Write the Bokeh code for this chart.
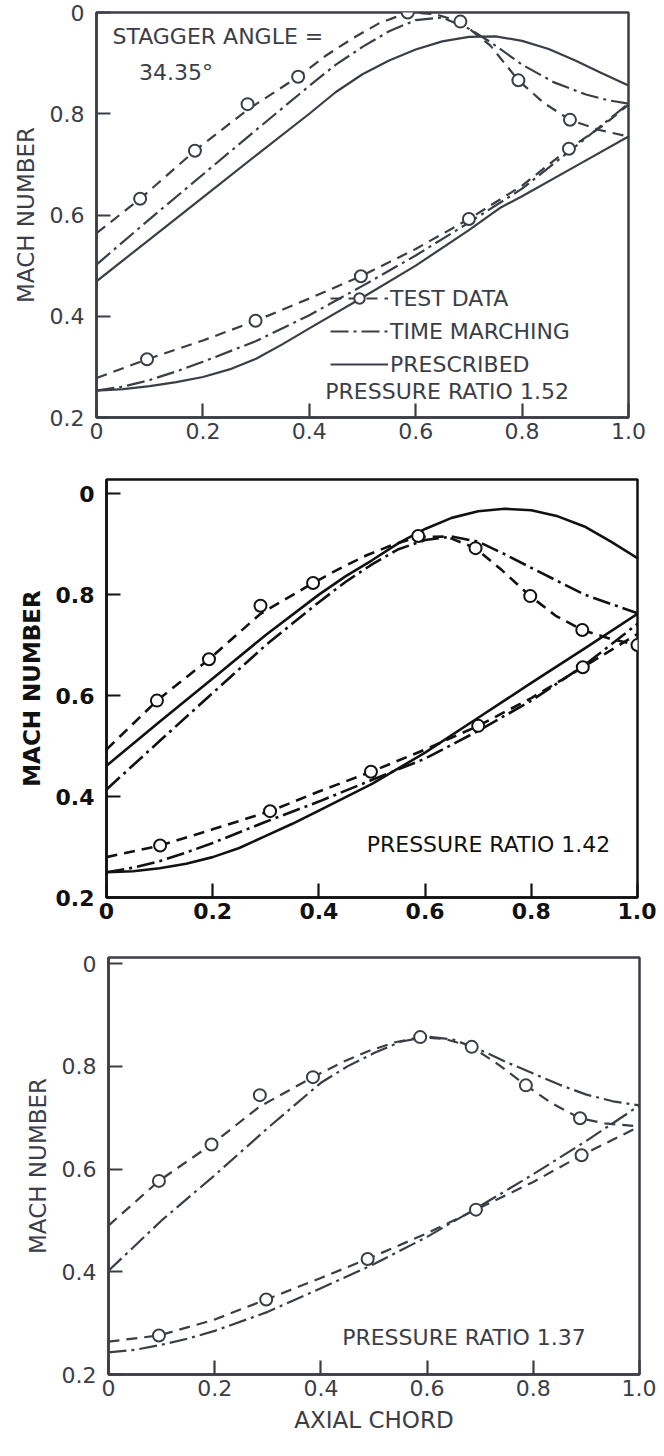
from bokeh.plotting import figure
from bokeh.models import Range1d, FixedTicker, Label, Legend, LegendItem
from bokeh.layouts import column
from bokeh.embed import file_html
from bokeh.resources import INLINE

# ---------------- tick labels ----------------
x_ticks = [0.0, 0.2, 0.4, 0.6, 0.8, 1.0]
x_tick_labels = ["0", "0.2", "0.4", "0.6", "0.8", "1.0"]
y_ticks = [0.2, 0.4, 0.6, 0.8, 1.0]
y_tick_labels = ["0.2", "0.4", "0.6", "0.8", "0"]

# ---------------- panel 1 : pressure ratio 1.52 ----------------
p1_test_up_x = [0.0, 0.082, 0.185, 0.284, 0.379, 0.43, 0.48, 0.53, 0.585, 0.635, 0.684, 0.74, 0.793, 0.840, 0.890, 0.945, 1.0]
p1_test_up_m = [0.564, 0.632, 0.727, 0.808, 0.873, 0.914, 0.948, 0.978, 1.0, 0.997, 0.982, 0.935, 0.866, 0.822, 0.788, 0.768, 0.755]
p1_test_lo_x = [0.0, 0.095, 0.2, 0.299, 0.4, 0.497, 0.6, 0.70, 0.8, 0.888, 0.95, 1.0]
p1_test_lo_m = [0.278, 0.315, 0.352, 0.391, 0.435, 0.479, 0.533, 0.592, 0.658, 0.731, 0.775, 0.818]
p1_circ_up_x = [0.082, 0.185, 0.284, 0.379, 0.585, 0.684, 0.793, 0.890]
p1_circ_up_m = [0.632, 0.727, 0.819, 0.873, 1.0, 0.982, 0.866, 0.788]
p1_circ_lo_x = [0.095, 0.299, 0.497, 0.70, 0.888]
p1_circ_lo_m = [0.315, 0.391, 0.479, 0.592, 0.731]
p1_tm_up_x = [0.0, 0.1, 0.2, 0.3, 0.4, 0.45, 0.5, 0.55, 0.6, 0.65, 0.7, 0.74, 0.8, 0.86, 0.92, 0.96, 1.0]
p1_tm_up_m = [0.502, 0.592, 0.68, 0.768, 0.855, 0.897, 0.932, 0.963, 0.985, 0.99, 0.968, 0.942, 0.897, 0.862, 0.838, 0.827, 0.82]
p1_tm_lo_x = [0.0, 0.05, 0.1, 0.15, 0.2, 0.3, 0.4, 0.5, 0.6, 0.7, 0.8, 0.9, 1.0]
p1_tm_lo_m = [0.253, 0.261, 0.274, 0.291, 0.31, 0.351, 0.402, 0.46, 0.52, 0.585, 0.652, 0.735, 0.82]
p1_pr_up_x = [0.0, 0.1, 0.2, 0.3, 0.4, 0.45, 0.5, 0.55, 0.6, 0.65, 0.7, 0.75, 0.8, 0.85, 0.9, 0.95, 1.0]
p1_pr_up_m = [0.469, 0.552, 0.635, 0.718, 0.80, 0.843, 0.878, 0.905, 0.927, 0.943, 0.952, 0.953, 0.944, 0.928, 0.905, 0.88, 0.856]
p1_pr_lo_x = [0.0, 0.05, 0.1, 0.15, 0.2, 0.25, 0.3, 0.35, 0.4, 0.5, 0.6, 0.7, 0.76, 0.8, 0.9, 1.0]
p1_pr_lo_m = [0.253, 0.256, 0.262, 0.27, 0.28, 0.295, 0.316, 0.345, 0.376, 0.437, 0.50, 0.57, 0.615, 0.637, 0.696, 0.755]

# ---------------- panel 2 : pressure ratio 1.42 ----------------
p2_test_up_x = [0.0, 0.095, 0.193, 0.29, 0.389, 0.44, 0.49, 0.54, 0.587, 0.64, 0.695, 0.745, 0.798, 0.846, 0.896, 0.95, 1.0]
p2_test_up_m = [0.493, 0.59, 0.672, 0.762, 0.823, 0.852, 0.878, 0.899, 0.914, 0.915, 0.892, 0.848, 0.797, 0.758, 0.73, 0.712, 0.70]
p2_test_lo_x = [0.0, 0.101, 0.2, 0.308, 0.4, 0.498, 0.6, 0.70, 0.8, 0.897, 1.0]
p2_test_lo_m = [0.28, 0.303, 0.335, 0.371, 0.41, 0.449, 0.493, 0.54, 0.595, 0.656, 0.722]
p2_circ_up_x = [0.095, 0.193, 0.29, 0.389, 0.587, 0.695, 0.798, 0.896, 1.0]
p2_circ_up_m = [0.59, 0.672, 0.778, 0.823, 0.916, 0.892, 0.797, 0.73, 0.70]
p2_circ_lo_x = [0.101, 0.308, 0.498, 0.70, 0.897]
p2_circ_lo_m = [0.303, 0.371, 0.449, 0.54, 0.656]
p2_tm_up_x = [0.0, 0.1, 0.2, 0.3, 0.4, 0.45, 0.5, 0.55, 0.6, 0.65, 0.7, 0.75, 0.8, 0.9, 1.0]
p2_tm_up_m = [0.414, 0.51, 0.605, 0.70, 0.785, 0.825, 0.86, 0.89, 0.908, 0.915, 0.905, 0.88, 0.853, 0.80, 0.763]
p2_tm_lo_x = [0.0, 0.05, 0.1, 0.15, 0.2, 0.3, 0.4, 0.5, 0.6, 0.7, 0.8, 0.9, 1.0]
p2_tm_lo_m = [0.25, 0.259, 0.272, 0.289, 0.308, 0.35, 0.39, 0.433, 0.475, 0.53, 0.59, 0.66, 0.742]
p2_pr_up_x = [0.0, 0.1, 0.2, 0.3, 0.4, 0.45, 0.5, 0.55, 0.6, 0.65, 0.7, 0.75, 0.8, 0.85, 0.9, 0.95, 1.0]
p2_pr_up_m = [0.461, 0.548, 0.634, 0.72, 0.80, 0.836, 0.868, 0.902, 0.93, 0.952, 0.965, 0.97, 0.967, 0.955, 0.935, 0.905, 0.872]
p2_pr_lo_x = [0.0, 0.05, 0.1, 0.15, 0.2, 0.25, 0.3, 0.35, 0.4, 0.5, 0.6, 0.7, 0.8, 0.9, 1.0]
p2_pr_lo_m = [0.25, 0.252, 0.258, 0.267, 0.28, 0.298, 0.322, 0.346, 0.372, 0.425, 0.487, 0.556, 0.625, 0.693, 0.762]

# ---------------- panel 3 : pressure ratio 1.37 ----------------
p3_test_up_x = [0.0, 0.095, 0.194, 0.285, 0.385, 0.44, 0.49, 0.54, 0.587, 0.635, 0.684, 0.735, 0.786, 0.835, 0.888, 0.935, 1.0]
p3_test_up_m = [0.49, 0.577, 0.648, 0.722, 0.779, 0.808, 0.83, 0.847, 0.857, 0.853, 0.838, 0.803, 0.763, 0.728, 0.699, 0.689, 0.683]
p3_test_lo_x = [0.0, 0.095, 0.2, 0.297, 0.4, 0.488, 0.6, 0.692, 0.8, 0.891, 1.0]
p3_test_lo_m = [0.264, 0.276, 0.307, 0.346, 0.388, 0.425, 0.475, 0.521, 0.575, 0.627, 0.683]
p3_circ_up_x = [0.095, 0.194, 0.285, 0.385, 0.587, 0.684, 0.786, 0.888]
p3_circ_up_m = [0.577, 0.648, 0.744, 0.779, 0.857, 0.838, 0.763, 0.699]
p3_circ_lo_x = [0.095, 0.297, 0.488, 0.692, 0.891]
p3_circ_lo_m = [0.276, 0.346, 0.425, 0.521, 0.627]
p3_tm_up_x = [0.0, 0.1, 0.2, 0.3, 0.4, 0.45, 0.5, 0.55, 0.6, 0.65, 0.7, 0.75, 0.8, 0.85, 0.9, 0.95, 1.0]
p3_tm_up_m = [0.402, 0.50, 0.588, 0.68, 0.768, 0.8, 0.826, 0.848, 0.858, 0.852, 0.832, 0.808, 0.786, 0.764, 0.745, 0.732, 0.724]
p3_tm_lo_x = [0.0, 0.05, 0.1, 0.15, 0.2, 0.3, 0.4, 0.5, 0.6, 0.7, 0.8, 0.9, 1.0]
p3_tm_lo_m = [0.243, 0.248, 0.258, 0.27, 0.285, 0.322, 0.368, 0.415, 0.468, 0.528, 0.59, 0.655, 0.724]

INK = "#3b3e47"
INK2 = "#111111"
FONT = "DejaVu Sans"
TEST_DASH = "11 7"
TM_DASH = "18 5 3 5"


def make_panel(height, bl, br, bt, bb, ymax, ink, bold, xlabel=None):
    p = figure(width=656, height=height, output_backend="svg", toolbar_location=None,
               x_range=Range1d(0.0, 1.0), y_range=Range1d(0.2, ymax),
               min_border_left=bl, min_border_right=br, min_border_top=bt, min_border_bottom=bb,
               frame_align=False)
    p.grid.visible = False
    p.background_fill_color = "white"
    p.border_fill_color = "white"
    p.outline_line_color = ink
    p.outline_line_width = 2.5
    p.outline_line_alpha = 1.0
    p.xaxis.ticker = FixedTicker(ticks=x_ticks)
    p.yaxis.ticker = FixedTicker(ticks=y_ticks)
    p.xaxis.major_label_overrides = dict(zip(x_ticks, x_tick_labels))
    p.yaxis.major_label_overrides = dict(zip(y_ticks, y_tick_labels))
    for ax in (p.xaxis, p.yaxis):
        ax.axis_line_color = ink
        ax.axis_line_width = 2.5
        ax.major_tick_line_color = ink
        ax.major_tick_line_width = 2.2
        ax.major_tick_in = 14
        ax.major_tick_out = 0
        ax.minor_tick_line_color = None
        ax.major_label_text_font = FONT
        ax.major_label_text_font_size = "22px"
        ax.major_label_text_color = ink
        ax.major_label_text_font_style = "bold" if bold else "normal"
        ax.axis_label_text_font = FONT
        ax.axis_label_text_font_size = "23px"
        ax.axis_label_text_color = ink
        ax.axis_label_text_font_style = "bold" if bold else "normal"
    p.xaxis.major_label_standoff = 5
    p.yaxis.major_label_standoff = 12
    p.yaxis.axis_label = "MACH NUMBER"
    p.yaxis.axis_label_standoff = 8
    if xlabel:
        p.xaxis.axis_label = xlabel
        p.xaxis.axis_label_standoff = 8
    return p


def add_curves(p, ink, lw, test_up, test_lo, circ_up, circ_lo, tm_up, tm_lo, pr_up=None, pr_lo=None):
    out = {}
    if pr_up is not None:
        out["pr"] = p.line(pr_up[0], pr_up[1], line_color=ink, line_width=lw, line_join="round")
        p.line(pr_lo[0], pr_lo[1], line_color=ink, line_width=lw, line_join="round")
    out["tm"] = p.line(tm_up[0], tm_up[1], line_color=ink, line_width=lw, line_dash=TM_DASH, line_join="round")
    p.line(tm_lo[0], tm_lo[1], line_color=ink, line_width=lw, line_dash=TM_DASH, line_join="round")
    out["test"] = p.line(test_up[0], test_up[1], line_color=ink, line_width=lw, line_dash=TEST_DASH, line_join="round")
    p.line(test_lo[0], test_lo[1], line_color=ink, line_width=lw, line_dash=TEST_DASH, line_join="round")
    out["circ"] = p.scatter(circ_up[0], circ_up[1], marker="circle", size=12, fill_color="white",
                            line_color=ink, line_width=2)
    p.scatter(circ_lo[0], circ_lo[1], marker="circle", size=12, fill_color="white",
              line_color=ink, line_width=2)
    return out


def text(p, x, y, s, ink, size="22px", style="normal"):
    p.add_layout(Label(x=x, y=y, text=s, x_units="data", y_units="data", text_baseline="middle",
                       text_align="left", text_font=FONT, text_font_size=size, text_color=ink,
                       text_font_style=style))


# ---- panel 1
p1 = make_panel(454, 96, 28, 12, 37, 1.0, INK, False)
r1 = add_curves(p1, INK, 2.2, (p1_test_up_x, p1_test_up_m), (p1_test_lo_x, p1_test_lo_m),
                (p1_circ_up_x, p1_circ_up_m), (p1_circ_lo_x, p1_circ_lo_m),
                (p1_tm_up_x, p1_tm_up_m), (p1_tm_lo_x, p1_tm_lo_m),
                (p1_pr_up_x, p1_pr_up_m), (p1_pr_lo_x, p1_pr_lo_m))
text(p1, 0.03, 0.952, "STAGGER ANGLE =", INK)
text(p1, 0.08, 0.882, "34.35°", INK)
text(p1, 0.43, 0.252, "PRESSURE RATIO  1.52", INK)
legend = Legend(items=[LegendItem(label="TEST DATA", renderers=[r1["test"], r1["circ"]]),
                       LegendItem(label="TIME MARCHING", renderers=[r1["tm"]]),
                       LegendItem(label="PRESCRIBED", renderers=[r1["pr"]])],
                location=(234, 40), background_fill_alpha=0, border_line_alpha=0,
                label_text_font=FONT, label_text_font_size="22px", label_text_color=INK,
                glyph_width=58, glyph_height=26, label_height=26, label_standoff=2,
                spacing=7, padding=0, margin=0)
p1.add_layout(legend)

# ---- panel 2
p2 = make_panel(478, 106, 19, 25, 35, 1.028, INK2, True)
add_curves(p2, INK2, 2.6, (p2_test_up_x, p2_test_up_m), (p2_test_lo_x, p2_test_lo_m),
           (p2_circ_up_x, p2_circ_up_m), (p2_circ_lo_x, p2_circ_lo_m),
           (p2_tm_up_x, p2_tm_up_m), (p2_tm_lo_x, p2_tm_lo_m),
           (p2_pr_up_x, p2_pr_up_m), (p2_pr_lo_x, p2_pr_lo_m))
text(p2, 0.49, 0.305, "PRESSURE RATIO  1.42", INK2)

# ---- panel 3
p3 = make_panel(506, 108, 17, 25, 64, 1.012, INK, False, xlabel="AXIAL CHORD")
add_curves(p3, INK, 2.2, (p3_test_up_x, p3_test_up_m), (p3_test_lo_x, p3_test_lo_m),
           (p3_circ_up_x, p3_circ_up_m), (p3_circ_lo_x, p3_circ_lo_m),
           (p3_tm_up_x, p3_tm_up_m), (p3_tm_lo_x, p3_tm_lo_m))
text(p3, 0.44, 0.273, "PRESSURE RATIO  1.37", INK)

layout = column(p1, p2, p3, spacing=0)
open("out.html", "w").write(file_html(layout, INLINE))
